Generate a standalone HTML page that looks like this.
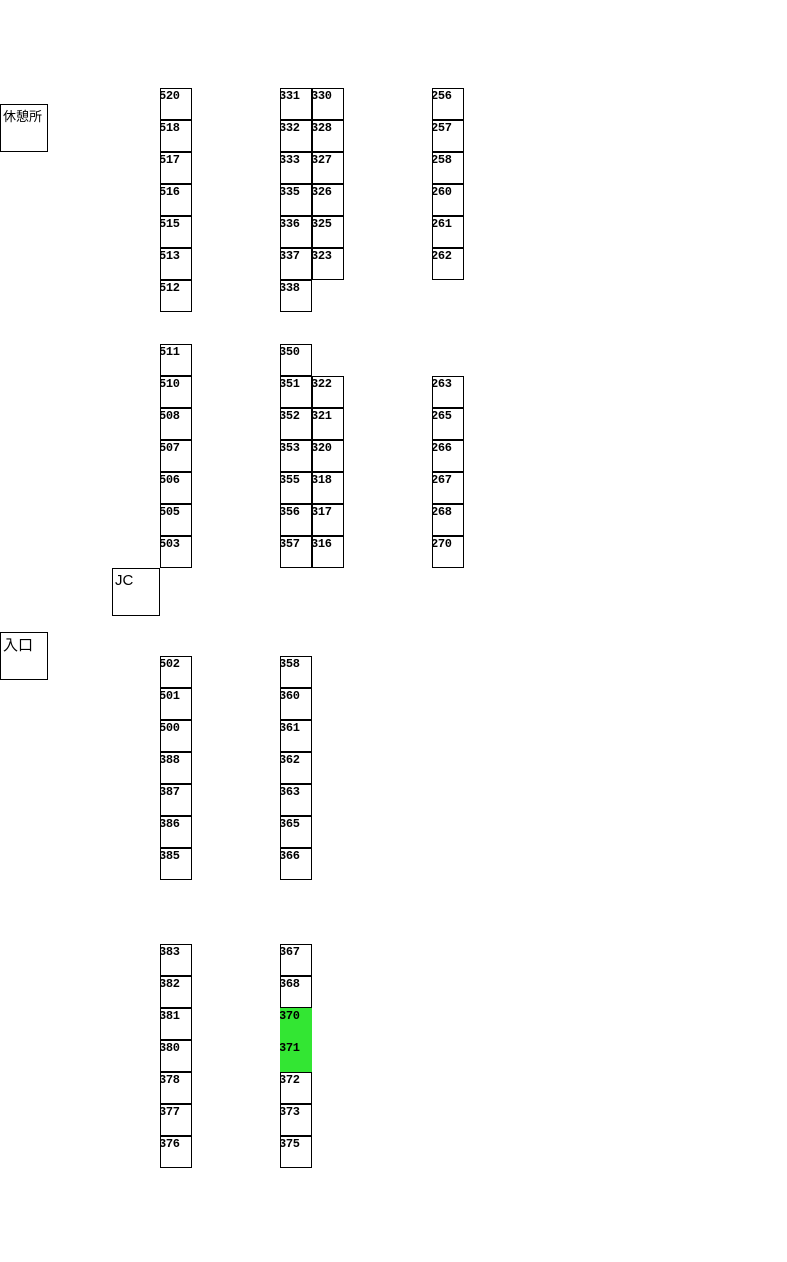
<!DOCTYPE html>
<html><head><meta charset="utf-8"><style>
body{margin:0;width:787px;height:1262px;background:#fff;position:relative;overflow:hidden}
.c{position:absolute;width:32px;height:32px;box-sizing:border-box;border:1px solid #000;background:#fff;font:bold 12px "Liberation Mono",monospace;line-height:13px;padding-top:1px;text-indent:-2px;overflow:hidden;color:#000;letter-spacing:-0.3px}
.g{background:#33e633;border:none;padding-top:2px;text-indent:-1px}
.l{position:absolute;width:48px;height:48px;box-sizing:border-box;border:1px solid #000;font-family:"Liberation Sans","Noto Sans CJK JP",sans-serif;padding:1px 2px}
</style></head><body>
<div class="l" style="left:0;top:104px;font-size:13px">休憩所</div>
<div class="l" style="left:112px;top:568px;font-size:15px;padding-top:3px">JC</div>
<div class="l" style="left:0;top:632px;font-size:15px">入口</div>

<div class="c" style="left:160px;top:88px">520</div>
<div class="c" style="left:160px;top:120px">518</div>
<div class="c" style="left:160px;top:152px">517</div>
<div class="c" style="left:160px;top:184px">516</div>
<div class="c" style="left:160px;top:216px">515</div>
<div class="c" style="left:160px;top:248px">513</div>
<div class="c" style="left:160px;top:280px">512</div>

<div class="c" style="left:280px;top:88px">331</div>
<div class="c" style="left:280px;top:120px">332</div>
<div class="c" style="left:280px;top:152px">333</div>
<div class="c" style="left:280px;top:184px">335</div>
<div class="c" style="left:280px;top:216px">336</div>
<div class="c" style="left:280px;top:248px">337</div>
<div class="c" style="left:280px;top:280px">338</div>

<div class="c" style="left:312px;top:88px">330</div>
<div class="c" style="left:312px;top:120px">328</div>
<div class="c" style="left:312px;top:152px">327</div>
<div class="c" style="left:312px;top:184px">326</div>
<div class="c" style="left:312px;top:216px">325</div>
<div class="c" style="left:312px;top:248px">323</div>

<div class="c" style="left:432px;top:88px">256</div>
<div class="c" style="left:432px;top:120px">257</div>
<div class="c" style="left:432px;top:152px">258</div>
<div class="c" style="left:432px;top:184px">260</div>
<div class="c" style="left:432px;top:216px">261</div>
<div class="c" style="left:432px;top:248px">262</div>

<div class="c" style="left:160px;top:344px">511</div>
<div class="c" style="left:160px;top:376px">510</div>
<div class="c" style="left:160px;top:408px">508</div>
<div class="c" style="left:160px;top:440px">507</div>
<div class="c" style="left:160px;top:472px">506</div>
<div class="c" style="left:160px;top:504px">505</div>
<div class="c" style="left:160px;top:536px">503</div>

<div class="c" style="left:280px;top:344px">350</div>
<div class="c" style="left:280px;top:376px">351</div>
<div class="c" style="left:280px;top:408px">352</div>
<div class="c" style="left:280px;top:440px">353</div>
<div class="c" style="left:280px;top:472px">355</div>
<div class="c" style="left:280px;top:504px">356</div>
<div class="c" style="left:280px;top:536px">357</div>

<div class="c" style="left:312px;top:376px">322</div>
<div class="c" style="left:312px;top:408px">321</div>
<div class="c" style="left:312px;top:440px">320</div>
<div class="c" style="left:312px;top:472px">318</div>
<div class="c" style="left:312px;top:504px">317</div>
<div class="c" style="left:312px;top:536px">316</div>

<div class="c" style="left:432px;top:376px">263</div>
<div class="c" style="left:432px;top:408px">265</div>
<div class="c" style="left:432px;top:440px">266</div>
<div class="c" style="left:432px;top:472px">267</div>
<div class="c" style="left:432px;top:504px">268</div>
<div class="c" style="left:432px;top:536px">270</div>

<div class="c" style="left:160px;top:656px">502</div>
<div class="c" style="left:160px;top:688px">501</div>
<div class="c" style="left:160px;top:720px">500</div>
<div class="c" style="left:160px;top:752px">388</div>
<div class="c" style="left:160px;top:784px">387</div>
<div class="c" style="left:160px;top:816px">386</div>
<div class="c" style="left:160px;top:848px">385</div>

<div class="c" style="left:280px;top:656px">358</div>
<div class="c" style="left:280px;top:688px">360</div>
<div class="c" style="left:280px;top:720px">361</div>
<div class="c" style="left:280px;top:752px">362</div>
<div class="c" style="left:280px;top:784px">363</div>
<div class="c" style="left:280px;top:816px">365</div>
<div class="c" style="left:280px;top:848px">366</div>

<div class="c" style="left:160px;top:944px">383</div>
<div class="c" style="left:160px;top:976px">382</div>
<div class="c" style="left:160px;top:1008px">381</div>
<div class="c" style="left:160px;top:1040px">380</div>
<div class="c" style="left:160px;top:1072px">378</div>
<div class="c" style="left:160px;top:1104px">377</div>
<div class="c" style="left:160px;top:1136px">376</div>

<div class="c" style="left:280px;top:944px">367</div>
<div class="c" style="left:280px;top:976px">368</div>
<div class="c g" style="left:280px;top:1008px">370</div>
<div class="c g" style="left:280px;top:1040px">371</div>
<div class="c" style="left:280px;top:1072px">372</div>
<div class="c" style="left:280px;top:1104px">373</div>
<div class="c" style="left:280px;top:1136px">375</div>
</body></html>
